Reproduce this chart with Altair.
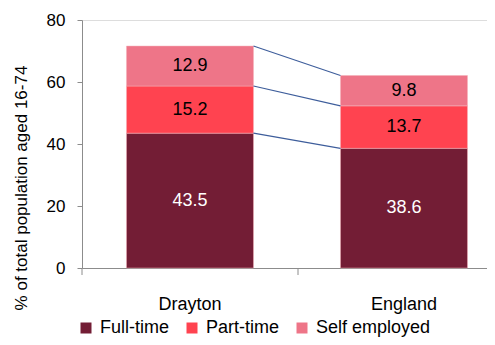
import altair as alt
import pandas as pd

regions = ["Drayton", "England"]
categories = ["Full-time", "Part-time", "Self employed"]
full_time = [43.5, 38.6]
part_time = [15.2, 13.7]
self_employed = [12.9, 9.8]
colors = ["#731d35", "#ff4350", "#ee7588"]
label_colors = ["white", "black", "black"]
y_title = "% of total population aged 16-74"

series = [full_time, part_time, self_employed]
rows = []
for ri, r in enumerate(regions):
    cum = 0.0
    for ci, c in enumerate(categories):
        v = series[ci][ri]
        rows.append({"region": r, "cat": c, "order": ci, "value": v,
                     "mid": cum + v / 2, "tcolor": label_colors[ci]})
        cum += v
df = pd.DataFrame(rows)

conn = []
for ci, c in enumerate(categories):
    a = sum(series[k][0] for k in range(ci + 1))
    b = sum(series[k][1] for k in range(ci + 1))
    conn.append({"from": regions[0], "to": regions[1], "y1": a, "y2": b})
conn_df = pd.DataFrame(conn)

FONT = "Liberation Sans"

xscale = alt.Scale(domain=regions, paddingInner=0.4065, paddingOuter=0.1495, align=0.695)
yscale = alt.Scale(domain=[0, 80])

bars = alt.Chart(df).mark_bar(stroke="#f4b0b8", strokeWidth=0.5).encode(
    x=alt.X("region:N", scale=xscale, sort=regions,
            axis=alt.Axis(title=None, labelAngle=0, ticks=False, tickSize=0,
                          labelPadding=27, labelFontSize=18, labelFont=FONT,
                          labelColor="black", domainColor="#8c8c8c")),
    y=alt.Y("value:Q", stack="zero", scale=yscale,
            axis=alt.Axis(title=None, values=[0, 20, 40, 60, 80],
                          grid=False, tickSize=5, tickColor="#8c8c8c", domainColor="#8c8c8c",
                          labelPadding=12, labelFontSize=17, labelFont=FONT, labelColor="black")),
    color=alt.Color("cat:N", scale=alt.Scale(domain=categories, range=colors),
                    legend=alt.Legend(title=None, orient="none", direction="horizontal",
                                      legendX=-5, legendY=299, padding=0,
                                      symbolType="square", symbolSize=121,
                                      symbolStrokeWidth=0, labelFontSize=18,
                                      labelFont=FONT, labelColor="black",
                                      labelOffset=5, columnPadding=13)),
    order=alt.Order("order:Q"),
)

texts = alt.Chart(df).mark_text(fontSize=18, font=FONT, baseline="middle").encode(
    x=alt.X("region:N", scale=xscale, sort=regions),
    y=alt.Y("mid:Q", scale=yscale),
    text=alt.Text("value:Q", format=".1f"),
    color=alt.Color("tcolor:N", scale=None),
)

rules = alt.Chart(conn_df).mark_rule(color="#3d5d9b", strokeWidth=1.1).encode(
    x=alt.X("from:N", scale=xscale, sort=regions, bandPosition=1),
    x2=alt.X2("to:N", bandPosition=0),
    y=alt.Y("y1:Q", scale=yscale),
    y2=alt.Y2("y2:Q"),
)

ticks = alt.Chart(pd.DataFrame({"t": [0]})).mark_rule(color="#8c8c8c").encode(
    x=alt.value(216), y=alt.value(248), y2=alt.value(255)
)
ticks0 = alt.Chart(pd.DataFrame({"t": [0]})).mark_rule(color="#8c8c8c").encode(
    x=alt.value(0), y=alt.value(248), y2=alt.value(255)
)

title = alt.Chart(pd.DataFrame({"t": [y_title]})).mark_text(
    angle=270, fontSize=17, font=FONT, color="black", align="center", baseline="middle"
).encode(x=alt.value(-60), y=alt.value(168), text="t:N")

chart = alt.layer(bars, rules, texts, ticks, ticks0, title).properties(
    width=405, height=248,
    autosize="none",
    padding={"left": 74, "top": 12, "right": 0, "bottom": 69},
).configure_view(stroke=None).configure(font=FONT)

chart.save("out.html", embed_options={"renderer": "svg", "actions": False})
